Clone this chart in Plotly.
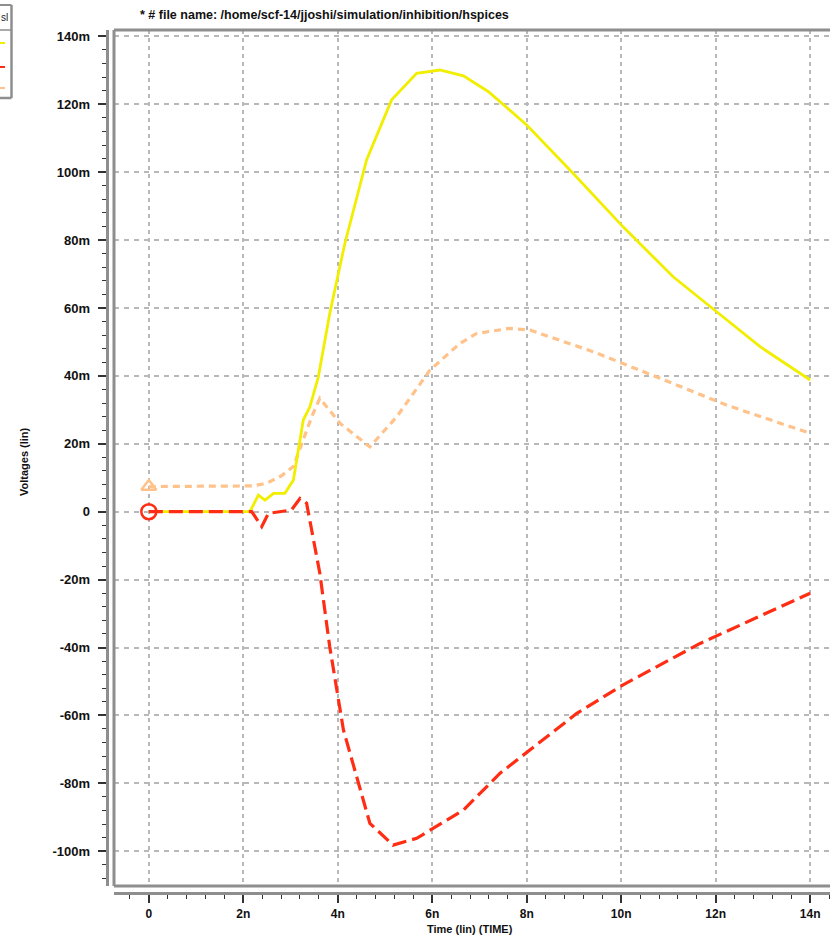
import plotly.graph_objects as go

# ---------------- data (time in ns, voltage in mV) ----------------
t_yellow = [0, 2.14, 2.32, 2.46, 2.64, 2.88, 3.06, 3.16, 3.27, 3.41, 3.59, 3.83, 4.15, 4.61,
            5.14, 5.67, 6.16, 6.66, 7.19, 8.0, 8.98, 10.04, 11.1, 12.02, 12.94, 14.0]
v_yellow = [0, 0, 4.9, 3.4, 5.4, 5.4, 9.3, 18.2, 27, 30.9, 39.8, 58.4, 79, 103.6,
            121.3, 129.1, 130.1, 128.4, 123.7, 113.9, 99.7, 83.9, 69.2, 58.9, 48.6, 38.8]

t_orange = [0, 1.72, 2.2, 2.5, 2.8, 3.06, 3.27, 3.45, 3.62, 4.05, 4.68, 5.25, 5.95, 6.59,
            6.94, 7.64, 8.07, 9.41, 10.82, 12.23, 14.0]
v_orange = [7.4, 7.4, 7.6, 8.4, 10.5, 13.3, 21.1, 28, 33.4, 26, 19.1, 28, 41.7, 49.6,
            52.5, 54, 53.5, 47.1, 39.3, 31.4, 23.1]

t_red = [0, 2.18, 2.39, 2.53, 3.02, 3.2, 3.34, 3.62, 3.83, 4.12, 4.68, 5.17, 5.67, 6.66,
         7.43, 8.07, 9.06, 10.04, 11.67, 14.0]
v_red = [0, 0, -4.4, -0.5, 0.5, 3.9, 2.5, -18.1, -39.8, -64.3, -91.8, -98.2, -96.2, -87.9,
         -77.1, -70.2, -59.4, -51, -38.8, -24.0]

x_tickvals = [0, 2, 4, 6, 8, 10, 12, 14]
x_ticktext = ["0", "2n", "4n", "6n", "8n", "10n", "12n", "14n"]
y_tickvals = [140, 120, 100, 80, 60, 40, 20, 0, -20, -40, -60, -80, -100]
y_ticktext = ["140m", "120m", "100m", "80m", "60m", "40m", "20m", "0", "-20m", "-40m",
              "-60m", "-80m", "-100m"]

title_text = "* # file name: /home/scf-14/jjoshi/simulation/inhibition/hspices"

# ---------------- layout helpers ----------------
W, H = 830, 942
def PX(px):
    return px / W
def PY(py):
    return (H - py) / H

FONT = "Liberation Sans, Arial, sans-serif"
YELLOW = "#f2ee00"
RED = "#ff2d14"
ORANGE = "#ffc28a"
FRAME = "#8e8e8e"

fig = go.Figure()
fig.add_trace(go.Scatter(x=t_orange, y=v_orange, mode="lines", name="v3",
                         line=dict(color=ORANGE, width=3.2, dash="7px,5px")))
fig.add_trace(go.Scatter(x=t_yellow, y=v_yellow, mode="lines", name="v1",
                         line=dict(color=YELLOW, width=2.8)))
fig.add_trace(go.Scatter(x=t_red, y=v_red, mode="lines", name="v2",
                         line=dict(color=RED, width=3.2, dash="14px,6px")))
# start markers
fig.add_trace(go.Scatter(x=t_orange[:1], y=v_orange[:1], mode="markers", showlegend=False,
                         marker=dict(symbol="triangle-up-open", size=13, color=ORANGE,
                                     line=dict(width=2.5, color=ORANGE))))
fig.add_trace(go.Scatter(x=t_red[:1], y=v_red[:1], mode="markers", showlegend=False,
                         marker=dict(symbol="circle-open", size=15, color=RED,
                                     line=dict(width=2.5, color=RED))))

dom_x = [PX(114), 1.0]
dom_y = [PY(886), PY(30)]

fig.update_layout(
    width=W, height=H,
    margin=dict(l=0, r=0, t=0, b=0, autoexpand=False),
    paper_bgcolor="white", plot_bgcolor="white",
    showlegend=False,
    xaxis=dict(
        domain=dom_x, range=[-0.737, 14.42], automargin=False,
        anchor="free", position=PY(893.3),
        showline=True, linecolor=FRAME, linewidth=3,
        tickmode="array", tickvals=x_tickvals, ticktext=x_ticktext,
        ticks="outside", ticklen=8, tickwidth=1.5, tickcolor="#333",
        tickfont=dict(family=FONT, size=12, color="#111", weight="bold"),
        minor=dict(tickmode="linear", tick0=0, dtick=0.4, ticklen=4, tickwidth=1.2,
                   tickcolor="#333", ticks="outside", showgrid=False),
        showgrid=True, gridcolor="#b8b8b8", gridwidth=1.5, griddash="4px,4px",
        zeroline=False,
    ),
    yaxis=dict(
        domain=dom_y, range=[(511.7 - 886) / 3.395, (511.7 - 30) / 3.395], automargin=False,
        anchor="free", position=PX(106.7),
        showline=True, linecolor=FRAME, linewidth=3,
        tickmode="array", tickvals=y_tickvals, ticktext=y_ticktext,
        ticks="outside", ticklen=8, tickwidth=1.5, tickcolor="#333",
        ticklabelstandoff=5,
        tickfont=dict(family=FONT, size=13, color="#111", weight="bold"),
        minor=dict(tickmode="linear", tick0=0, dtick=4, ticklen=4, tickwidth=1.2,
                   tickcolor="#333", ticks="outside", showgrid=False),
        showgrid=True, gridcolor="#b8b8b8", gridwidth=1.5, griddash="5px,5px",
        zeroline=False,
    ),
)

# plot frame (left, top, bottom)
shapes = [
    dict(type="line", xref="paper", yref="paper", x0=PX(114), x1=PX(114), y0=PY(886), y1=PY(30),
         line=dict(color=FRAME, width=3)),
    dict(type="line", xref="paper", yref="paper", x0=PX(114), x1=1.0, y0=PY(30), y1=PY(30),
         line=dict(color=FRAME, width=3)),
    dict(type="line", xref="paper", yref="paper", x0=PX(114), x1=1.0, y0=PY(886), y1=PY(886),
         line=dict(color=FRAME, width=3)),
    # cut-off legend box
    dict(type="line", xref="paper", yref="paper", x0=PX(11.5), x1=PX(11.5), y0=PY(98), y1=PY(5),
         line=dict(color=FRAME, width=2.5)),
    dict(type="line", xref="paper", yref="paper", x0=0, x1=PX(11.5), y0=PY(5), y1=PY(5),
         line=dict(color=FRAME, width=2)),
    dict(type="line", xref="paper", yref="paper", x0=0, x1=PX(11.5), y0=PY(98), y1=PY(98),
         line=dict(color=FRAME, width=2.5)),
    dict(type="line", xref="paper", yref="paper", x0=0, x1=PX(11.5), y0=PY(30), y1=PY(30),
         line=dict(color=FRAME, width=1.5)),
    dict(type="line", xref="paper", yref="paper", x0=0, x1=PX(5), y0=PY(43), y1=PY(43),
         line=dict(color=YELLOW, width=2)),
    dict(type="line", xref="paper", yref="paper", x0=0, x1=PX(5), y0=PY(67), y1=PY(67),
         line=dict(color=RED, width=2)),
    dict(type="line", xref="paper", yref="paper", x0=0, x1=PX(5), y0=PY(88), y1=PY(88),
         line=dict(color=ORANGE, width=2)),
]
fig.update_layout(shapes=shapes)

annotations = [
    dict(text=title_text, xref="paper", yref="paper", x=PX(324), y=PY(15),
         xanchor="center", yanchor="middle", showarrow=False,
         font=dict(family=FONT, size=12.5, color="#111", weight="bold")),
    dict(text="Time (lin) (TIME)", xref="paper", yref="paper", x=PX(470), y=PY(929),
         xanchor="center", yanchor="middle", showarrow=False,
         font=dict(family=FONT, size=11, color="#111", weight="bold")),
    dict(text="Voltages (lin)", xref="paper", yref="paper", x=PX(24), y=PY(462),
         xanchor="center", yanchor="middle", showarrow=False, textangle=-90,
         font=dict(family=FONT, size=11, color="#111", weight="bold")),
    dict(text="sl", xref="paper", yref="paper", x=PX(10), y=PY(18),
         xanchor="right", yanchor="middle", showarrow=False,
         font=dict(family=FONT, size=10, color="#222")),
]
fig.update_layout(annotations=annotations)

# remove the default 8px page margin so the figure fills the window exactly
fig.write_html("out.html", config={"displayModeBar": False},
               post_script="document.body.style.margin='0';")
